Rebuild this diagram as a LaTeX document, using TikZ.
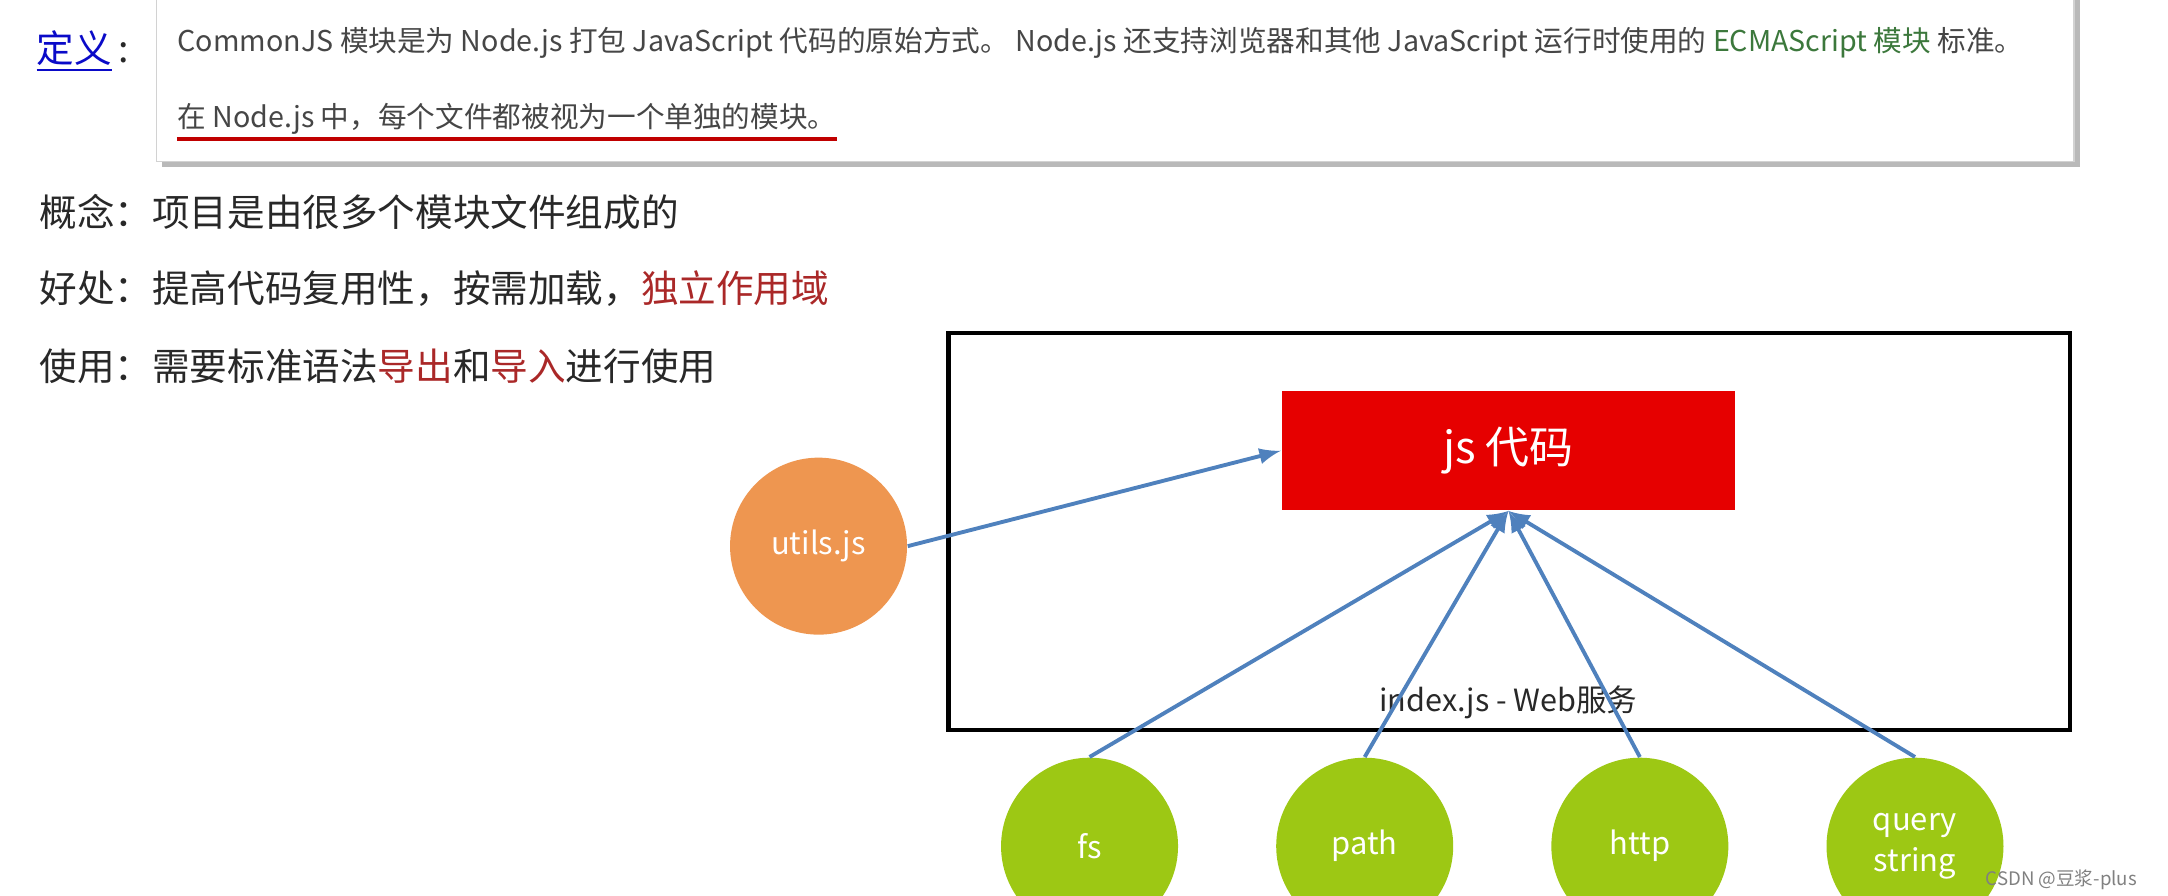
\documentclass[tikz,border=0pt]{standalone}
\usepackage{fontspec}
\setmainfont{Noto Sans CJK SC}
\usepackage{xcolor}
\usetikzlibrary{arrows}
\usetikzlibrary{math}
\definecolor{myblue}{RGB}{79,129,189}
\definecolor{myred}{RGB}{230,0,0}
\definecolor{darkred}{RGB}{170,40,40}
\definecolor{lineRed}{RGB}{192,0,0}
\definecolor{linkblue}{RGB}{10,10,200}
\definecolor{ecmagreen}{RGB}{60,120,60}
\definecolor{darktext}{RGB}{40,40,40}
\definecolor{boxtext}{RGB}{70,70,70}
\definecolor{myorange}{RGB}{238,150,80}
\definecolor{mygreen}{RGB}{157,200,20}

\begin{document}
\begin{tikzpicture}[x=0.13827mm,y=-0.13827mm,
  txt/.style={anchor=west,inner sep=0pt,text=darktext,font=\fontsize{10.7}{12}\selectfont},
  module/.style={circle,minimum size=17.7mm,inner sep=0pt,text=white,align=center,
    font=\fontsize{8.8}{10}\selectfont},
  dep/.style={-latex,line width=1.1pt,color=myblue}]
\tikzmath{
\yc=612;
\yd=153;
\dy=56;
}
\useasboundingbox (0,0) rectangle (1568,648);

% definition box
\fill[gray!55] (117,-10) rectangle (1504,121);
\draw[gray!35,fill=white] (113,-10) rectangle (1500,117);
\node[txt] (def) at (26,37) {\textcolor{linkblue}{\underline{定义}}\,:};
\node[txt,text=boxtext,font=\fontsize{8.15}{9}\selectfont] (line1) at (128,31)
  {CommonJS 模块是为 Node.js 打包 JavaScript 代码的原始方式。 Node.js 还支持浏览器和其他 JavaScript 运行时使用的 \textcolor{ecmagreen}{ECMAScript 模块} 标准。};
\node[txt,text=boxtext,font=\fontsize{8.15}{9}\selectfont] (line2) at (128,86)
  {在 Node.js 中，每个文件都被视为一个单独的模块。};
\coordinate (ul) at ([yshift=-2.0mm]line2.west);
\draw[lineRed,line width=1.3pt] (ul) -- (ul -| 605,0);

%%%%%%%%%%   notes
\node[txt] (idea) at (28,\yd) {概念：项目是由很多个模块文件组成的};
\node[txt] (gain) at (28,\yd+\dy) {好处：提高代码复用性，按需加载，\textcolor{darkred}{独立作用域}};
\node[txt] (use) at (28,\yd+2*\dy) {使用：需要标准语法\textcolor{darkred}{导出}和\textcolor{darkred}{导入}进行使用};

%%%%%%%%%%   index.js
\draw[line width=1.2pt] (686,241) rectangle (1497,528);
\node[fill=myred,minimum width=45.4mm,minimum height=11.9mm,text=white,
  font=\fontsize{12.5}{14}\selectfont] (code) at (1091,326) {js 代码};
\node[font=\fontsize{8.7}{10}\selectfont,text=darktext] (web) at (1091,508) {index.js - Web服务};

\node[module,fill=myorange] (utils) at (592,395) {utils.js};
\node[module,fill=mygreen] (fs) at (788,\yc) {fs};
\node[module,fill=mygreen] (path) at (987,\yc) {path};
\node[module,fill=mygreen] (http) at (1186,\yc) {http};
\node[module,fill=mygreen] (qs) at (1385,\yc) {query\\[1.5pt]string};

\draw[dep] (utils.east) -- (code.west);
\draw[dep] (fs.north) -- (code.south);
\draw[dep] (path.north) -- (code.south);
\draw[dep] (http.north) -- (code.south);
\draw[dep] (qs.north) -- (code.south);

\node[anchor=east,inner sep=0pt,text=gray,font=\fontsize{5.3}{6}\selectfont] (mark) at (1546,636) {CSDN @豆浆-plus};
\end{tikzpicture}
\end{document}
